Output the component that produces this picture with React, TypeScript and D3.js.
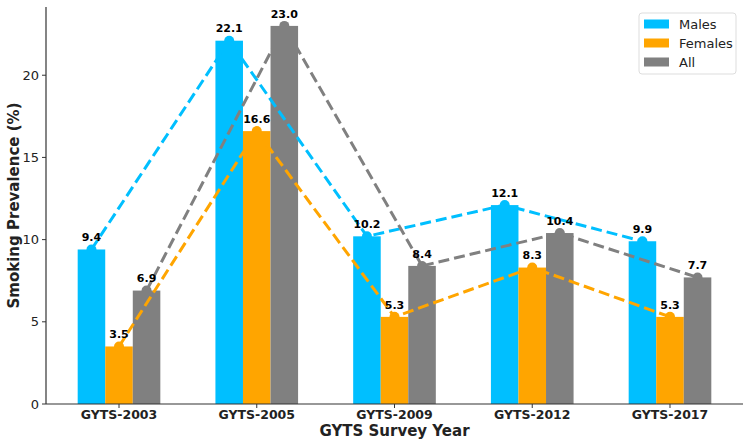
import React from "react";
import * as d3 from "d3";

const categories = ["GYTS-2003", "GYTS-2005", "GYTS-2009", "GYTS-2012", "GYTS-2017"];
const seriesNames = ["Males", "Females", "All"];
const males = [9.4, 22.1, 10.2, 12.1, 9.9];
const females = [3.5, 16.6, 5.3, 8.3, 5.3];
const all = [6.9, 23.0, 8.4, 10.4, 7.7];
const colors = ["#00BFFF", "#FFA500", "#808080"];
const yTicks = [0, 5, 10, 15, 20];

const W = 750, H = 446;
const M = { left: 46, right: 7, top: 7, bottom: 42 };

export default function App() {
  const series = [males, females, all];
  const x = d3.scaleLinear().domain([-0.53, 4.53]).range([M.left, W - M.right]);
  const y = d3.scaleLinear().domain([0, 24.15]).range([H - M.bottom, M.top]);
  const bw = 0.2;
  const font = "DejaVu Sans, sans-serif";
  const line = d3.line<[number, number]>().x(d => x(d[0])).y(d => y(d[1]));
  return (
    <div style={{ position: "absolute", left: 0, top: 0 }}>
      <svg width={W} height={H} style={{ display: "block", background: "#fff" }} fontFamily={font}>
        {series.map((vals, s) =>
          vals.map((v, i) => {
            const cx = i + (s - 1) * bw;
            return (
              <rect key={`b${s}-${i}`} x={x(cx - bw / 2)} y={y(v)} width={x(cx + bw / 2) - x(cx - bw / 2)} height={y(0) - y(v)} fill={colors[s]} />
            );
          })
        )}
        {series.map((vals, s) => (
          <g key={`l${s}`}>
            <path d={line(vals.map((v, i) => [i + (s - 1) * bw, v] as [number, number])) || ""} fill="none" stroke={colors[s]} strokeWidth={3} strokeDasharray="11,5" />
            {vals.map((v, i) => (
              <circle key={i} cx={x(i + (s - 1) * bw)} cy={y(v)} r={5} fill={colors[s]} />
            ))}
          </g>
        ))}
        {series.map((vals, s) =>
          vals.map((v, i) => (
            <text key={`t${s}-${i}`} x={x(i + (s - 1) * bw)} y={y(v + 0.5)} textAnchor="middle" fontSize={11} fontWeight="bold" fill="#000">
              {v.toFixed(1)}
            </text>
          ))
        )}
        <line x1={M.left} x2={M.left} y1={M.top} y2={H - M.bottom} stroke="#333" strokeWidth={1.2} />
        <line x1={M.left} x2={W - M.right} y1={H - M.bottom} y2={H - M.bottom} stroke="#333" strokeWidth={1.2} />
        {yTicks.map(t => (
          <g key={t}>
            <line x1={M.left - 4} x2={M.left} y1={y(t)} y2={y(t)} stroke="#333" />
            <text x={M.left - 7} y={y(t)} dy="0.35em" textAnchor="end" fontSize={13} fill="#222">{t}</text>
          </g>
        ))}
        {categories.map((c, i) => (
          <g key={c}>
            <line x1={x(i)} x2={x(i)} y1={H - M.bottom} y2={H - M.bottom + 4} stroke="#333" />
            <text x={x(i)} y={H - M.bottom + 15} textAnchor="middle" fontSize={12.5} fontWeight="bold" fill="#222">{c}</text>
          </g>
        ))}
        <text x={(M.left + W - M.right) / 2} y={436} textAnchor="middle" fontSize={15} fontWeight="bold" fill="#222">GYTS Survey Year</text>
        <text transform={`translate(19,${(M.top + H - M.bottom) / 2}) rotate(-90)`} textAnchor="middle" fontSize={15} fontWeight="bold" fill="#222">Smoking Prevalence (%)</text>
        <g transform="translate(639,13)">
          <rect x={0} y={0} width={97} height={61} rx={3} fill="#fff" fillOpacity={0.8} stroke="#ddd" />
          {seriesNames.map((n, s) => (
            <g key={n} transform={`translate(0,${11 + s * 19})`}>
              <rect x={5} y={-4.5} width={25} height={9} fill={colors[s]} />
              <text x={40} y={0} dy="0.35em" fontSize={13} fill="#222">{n}</text>
            </g>
          ))}
        </g>
      </svg>
    </div>
  );
}
